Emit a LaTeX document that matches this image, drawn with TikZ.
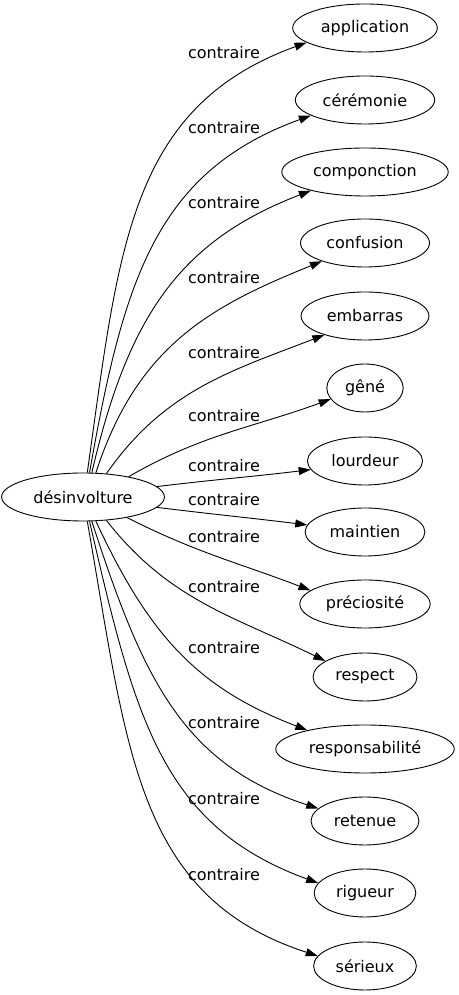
\documentclass[tikz,border=0pt]{standalone}
\usepackage{fontspec}
\setmainfont{DejaVu Sans}
\usetikzlibrary{shapes.geometric,arrows.meta}
\tikzset{
  mot/.style={ellipse, draw, line width=0.9pt, minimum height=48pt, minimum width=72pt, inner xsep=7pt, inner ysep=2pt},
  lien/.style={line width=0.9pt, -{Triangle[length=12pt,width=8pt]}},
  etiq/.style={inner sep=0pt},
}

\begin{document}
\begin{tikzpicture}[x=1pt,y=1pt,font=\fontsize{16}{19}\selectfont]
			\useasboundingbox (0,0) rectangle (458,995);
			
			%%%%% MOTS %%%%%
			\node[mot, inner xsep=8pt] (desinvolture) at (83,498) {désinvolture};
			
			\node[mot] (application) at (365,967) {application};
			\node[mot] (ceremonie) at (365,895) {cérémonie};
			\node[mot] (componction) at (365,823) {componction};
			\node[mot] (confusion) at (365,752) {confusion};
			\node[mot] (embarras) at (365,679) {embarras};
			\node[mot] (gene) at (365,607) {gêné};
			\node[mot] (lourdeur) at (365,534) {lourdeur};
			\node[mot] (maintien) at (365,463) {maintien};
			\node[mot] (preciosite) at (365,391) {préciosité};
			\node[mot] (respect) at (365,318) {respect};
			\node[mot] (responsabilite) at (365,246) {responsabilité};
			\node[mot] (retenue) at (365,174) {retenue};
			\node[mot] (rigueur) at (365,102) {rigueur};
			\node[mot] (serieux) at (365,29) {sérieux};
			
			%%%%% LIENS %%%%%
			\draw[lien] (desinvolture.80) to[out=82,in=200,out looseness=1.2] (application.194);
			\draw[lien] (desinvolture.75) to[out=80,in=200,out looseness=1.2] (ceremonie.196);
			\draw[lien] (desinvolture.70) to[out=77,in=201,out looseness=1.15] (componction.199);
			\draw[lien] (desinvolture.62) to[out=72,in=202,out looseness=1.1] (confusion.203);
			\draw[lien] (desinvolture.45) to[out=55,in=201] (embarras.205);
			\draw[lien] (desinvolture.24) to[out=30,in=200] (gene.198);
			\draw[lien] (desinvolture.8) to[out=7,in=187] (lourdeur.189);
			\draw[lien] (desinvolture.352) to[out=353,in=173] (maintien.173);
			\draw[lien] (desinvolture.335) to[out=333,in=159] (preciosite.166);
			\draw[lien] (desinvolture.315) to[out=308,in=154] (respect.158);
			\draw[lien] (desinvolture.298) to[out=295,in=159,out looseness=1.1] (responsabilite.162);
			\draw[lien] (desinvolture.290) to[out=288,in=162,out looseness=1.15] (retenue.165);
			\draw[lien] (desinvolture.285) to[out=283,in=160,out looseness=1.2] (rigueur.168);
			\draw[lien] (desinvolture.280) to[out=280,in=162,out looseness=1.2] (serieux.168);
			
			%%%%% ETIQUETTES %%%%%
			\node[etiq] (c1) at (224,942) {contraire};
			\node[etiq] (c2) at (224,867) {contraire};
			\node[etiq] (c3) at (224,792) {contraire};
			\node[etiq] (c4) at (224,717) {contraire};
			\node[etiq] (c5) at (224,642) {contraire};
			\node[etiq] (c6) at (224,579) {contraire};
			\node[etiq] (c7) at (224,529) {contraire};
			\node[etiq] (c8) at (224,495) {contraire};
			\node[etiq] (c9) at (224,458) {contraire};
			\node[etiq] (c10) at (224,408) {contraire};
			\node[etiq] (c11) at (224,347) {contraire};
			\node[etiq] (c12) at (224,272) {contraire};
			\node[etiq] (c13) at (224,196) {contraire};
			\node[etiq] (c14) at (224,120) {contraire};
			
		\end{tikzpicture}
\end{document}
